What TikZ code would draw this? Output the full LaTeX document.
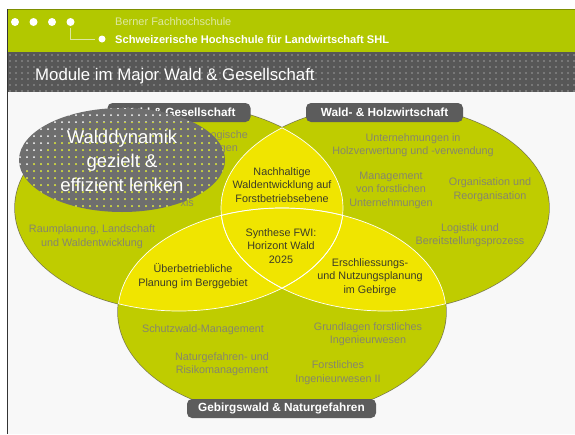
\documentclass[tikz,border=0pt]{standalone}
\usepackage{fontspec}
\setmainfont{Liberation Sans}
\definecolor{pagebg}{HTML}{F8F8F8}
\definecolor{headgreen}{HTML}{B2C800}
\definecolor{headline}{HTML}{7E8F00}
\definecolor{headpale}{HTML}{DDE8A0}
\definecolor{bandgray}{HTML}{575757}
\definecolor{banddot}{HTML}{E8E8E8}
\definecolor{framegray}{HTML}{333333}
\definecolor{ellgreen}{HTML}{BFCC00}
\definecolor{yel}{HTML}{F0E500}
\definecolor{outl}{HTML}{7A7A50}
\definecolor{bubblegray}{HTML}{6E6E6E}
\definecolor{tabgray}{HTML}{5C5C5C}
\definecolor{textgray}{HTML}{86866C}
\definecolor{darktext}{HTML}{3C3C28}
\begin{document}
\begin{tikzpicture}[x=1pt,y=-1pt,
  body/.style={font=\fontsize{10.8}{13.5}\selectfont, text=textgray, align=center, inner sep=0pt},
  inner/.style={font=\fontsize{10.8}{13.5}\selectfont, text=darktext, align=center, inner sep=0pt},
  tabbox/.style={fill=tabgray, rounded corners=5pt, text=white, font=\bfseries\fontsize{11.8}{13}\selectfont, minimum height=19pt, inner sep=0pt},
  hdot/.style={circle, fill=white, minimum size=8pt, inner sep=0pt},
]
\useasboundingbox (0,0) rectangle (575,434);
\fill[white] (0,0) rectangle (575,434);
\fill[pagebg] (7,92) rectangle (575,434);
% header band
\fill[headgreen] (7,9) rectangle (575,52);
\draw[headline, line width=1pt] (7,9.5) -- (575,9.5);
\fill[bandgray] (7,52) rectangle (575,92);
\foreach \x in {10,16,...,574}{\foreach \y in {55,61,...,91}{\fill[banddot] (\x,\y) circle[radius=0.7pt];}}
\draw[framegray, line width=1pt] (7,9) -- (7,434);
% header dots and texts
\node[hdot] (d1) at (15,22) {};
\node[hdot] (d2) at (33.5,22) {};
\node[hdot] (d3) at (52,22) {};
\node[hdot] (d4) at (70.5,22) {};
\node[hdot, minimum size=7pt] (d5) at (102,39) {};
\draw[headpale, line width=0.8pt, shorten <=2pt, shorten >=3pt] (d4.south) |- (d5.west);
\node[anchor=west, text=headpale, font=\fontsize{11}{13}\selectfont, inner sep=0pt] (bfh) at (115,22) {Berner Fachhochschule};
\node[anchor=west, text=white, font=\bfseries\fontsize{11.1}{13}\selectfont, inner sep=0pt] (shl) at (115,39.5) {Schweizerische Hochschule für Landwirtschaft SHL};
\node[anchor=base west, text=white, font=\fontsize{16.8}{18}\selectfont, inner sep=0pt] (title) at (35,80.5) {Module im Major Wald \& Gesellschaft};
% ellipses: outlines, fills
\draw[outl, line width=1.4pt] (179,208) ellipse[x radius=164pt, y radius=103pt];
\draw[outl, line width=1.4pt] (385,208) ellipse[x radius=164pt, y radius=103pt];
\draw[outl, line width=1.4pt] (282,312) ellipse[x radius=164pt, y radius=104pt];
\fill[ellgreen] (179,208) ellipse[x radius=164pt, y radius=103pt];
\fill[ellgreen] (385,208) ellipse[x radius=164pt, y radius=103pt];
\fill[ellgreen] (282,312) ellipse[x radius=164pt, y radius=104pt];
\begin{scope}
\clip (179,208) ellipse[x radius=164pt, y radius=103pt];
\fill[yel] (385,208) ellipse[x radius=164pt, y radius=103pt];
\fill[yel] (282,312) ellipse[x radius=164pt, y radius=104pt];
\end{scope}
\begin{scope}
\clip (385,208) ellipse[x radius=164pt, y radius=103pt];
\fill[yel] (282,312) ellipse[x radius=164pt, y radius=104pt];
\end{scope}
\begin{scope}
\clip (179,208) ellipse[x radius=164pt, y radius=103pt];
\draw[white, line width=0.7pt] (385,208) ellipse[x radius=164pt, y radius=103pt];
\draw[white, line width=0.7pt] (282,312) ellipse[x radius=164pt, y radius=104pt];
\end{scope}
\begin{scope}
\clip (385,208) ellipse[x radius=164pt, y radius=103pt];
\draw[white, line width=0.7pt] (179,208) ellipse[x radius=164pt, y radius=103pt];
\draw[white, line width=0.7pt] (282,312) ellipse[x radius=164pt, y radius=104pt];
\end{scope}
\begin{scope}
\clip (282,312) ellipse[x radius=164pt, y radius=104pt];
\draw[white, line width=0.7pt] (179,208) ellipse[x radius=164pt, y radius=103pt];
\draw[white, line width=0.7pt] (385,208) ellipse[x radius=164pt, y radius=103pt];
\end{scope}
% left ellipse texts (partly hidden)
\node[body, anchor=east] (l1) at (248,136) {ogische};
\node[body, anchor=east] (l2) at (238,150) {ngen};
\node[body, anchor=east] (l3) at (194,203) {xis};
\node[body] (l4) at (92,236.5) {Raumplanung, Landschaft\\und Waldentwicklung};
% right ellipse texts
\node[body] (r1) at (413,145) {Unternehmungen in\\Holzverwertung und -verwendung};
\node[body] (r2) at (391,190) {Management\\von forstlichen\\Unternehmungen};
\node[body] (r3) at (490,189.5) {Organisation und\\Reorganisation};
\node[body] (r4) at (470,235) {Logistik und\\Bereitstellungsprozess};
% bottom ellipse texts
\node[body] (b1) at (203,330) {Schutzwald-Management};
\node[body] (b2) at (222,364) {Naturgefahren- und\\Risikomanagement};
\node[body] (b3) at (368,334) {Grundlagen forstliches\\Ingenieurwesen};
\node[body] (b4) at (338,372.5) {Forstliches\\Ingenieurwesen II};
% intersections
\node[inner] (i1) at (282,185) {Nachhaltige\\Waldentwicklung auf\\Forstbetriebsebene};
\node[inner] (i2) at (281,246) {Synthese FWI:\\Horizont Wald\\2025};
\node[inner] (i3) at (193,276) {Überbetriebliche\\Planung im Berggebiet};
\node[inner] (i4) at (370,277) {Erschliessungs-\\und Nutzungsplanung\\im Gebirge};
% tabs
\node[tabbox, minimum width=143pt] (tabL) at (179,112.5) {Wald \& Gesellschaft};
\node[tabbox, minimum width=157pt] (tabR) at (384.5,112.5) {Wald- \& Holzwirtschaft};
\node[tabbox, minimum width=189pt] (tabB) at (281.5,408.5) {Gebirgswald \& Naturgefahren};
% bubble
\fill[bubblegray] (122,160) ellipse[x radius=103pt, y radius=52pt];
\begin{scope}
\clip (122,160) ellipse[x radius=103pt, y radius=52pt];
\foreach \x in {20,27,...,230}{\foreach \y in {108,115,...,215}{\fill[white] (\x,\y) circle[radius=1pt];}}
\clip (179,208) ellipse[x radius=164pt, y radius=103pt];
\clip (0,122.5) rectangle (300,230);
\foreach \x in {20,27,...,230}{\foreach \y in {108,115,...,215}{\fill[ellgreen] (\x,\y) circle[radius=1pt];}}
\end{scope}
\node[text=white, align=center, font=\fontsize{18.5}{24}\selectfont, inner sep=0pt] (bubble) at (122,161) {Walddynamik\\gezielt \&\\effizient lenken};
\end{tikzpicture}
\end{document}
